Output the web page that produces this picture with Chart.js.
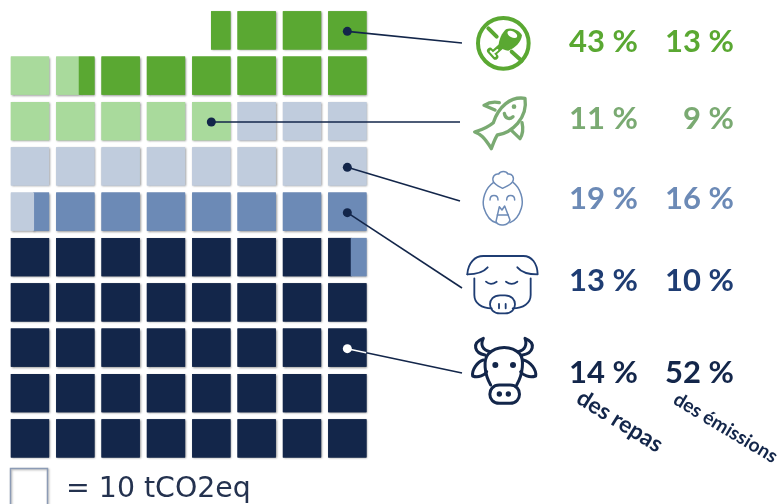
<!DOCTYPE html>
<html>
<head>
<meta charset="utf-8">
<title>Repas et émissions</title>
<script src="https://cdn.jsdelivr.net/npm/chart.js@4"></script>
<style>
    html, body { margin: 0; padding: 0; background: #fff; }
    canvas { display: block; }
</style>
</head>
<body>
<canvas id="myChart" width="778" height="504"></canvas>
<script>
// values in squares of 10 tCO2eq, bottom of the grid first
let seriesNames = ['Boeuf', 'Porc', 'Volaille', 'Poisson', 'Végétarien']
let seriesSquares = [39.6, 7.8, 11.6, 6.6, 9.9]
let seriesColors = ['#13264a', '#6c8ab6', '#c0ccdd', '#a9da9c', '#5aa832']

// shares printed next to the icons, top row first
let mealShare = [43, 11, 19, 13, 14]
let emissionShare = [13, 9, 16, 10, 52]
let shareColors = ['#5aa832', '#7aaa72', '#6c8ab6', '#1f3d73', '#13264a']
let shareBaselines = [52, 129, 209, 291, 383]

let rowLabels = ['9', '8', '7', '6', '5', '4', '3', '2', '1', '0']
let perRow = 8
let cellPad = 0.085

// walks the grid like a snake, left to right on even rows, and cuts
// a square in two when one series stops inside it
function buildCells(squares){
    let pos = 0
    return squares.map(function(amount){
        let cells = []
        let end = Math.round((pos + amount) * 1000) / 1000
        while(pos < end){
            let whole = Math.floor(pos + 1e-9)
            let from = pos - whole
            let to = Math.min(1, end - whole)
            let row = Math.floor(whole / perRow)
            let col = whole % perRow
            if(row % 2 === 1){
                col = perRow - 1 - col
                let flip = from
                from = 1 - to
                to = 1 - flip
            }
            let size = 1 - 2 * cellPad
            cells.push({
                x: [col + cellPad + from * size, col + cellPad + to * size],
                y: String(row)
            })
            pos = Math.round((whole + Math.min(1, end - whole)) * 1000) / 1000
        }
        return cells
    })
}

let cellData = buildCells(seriesSquares)

// soft shadow under the squares, then the fills again on top so a
// split square has no shadow line across it
let squareShadow = {
    id: 'squareShadow',
    beforeDatasetDraw(chart){
        let ctx = chart.ctx
        ctx.save()
        ctx.shadowColor = 'rgba(0, 0, 0, 0.4)'
        ctx.shadowBlur = 2
        ctx.shadowOffsetX = 1
        ctx.shadowOffsetY = 1
    },
    afterDatasetDraw(chart){
        chart.ctx.restore()
    },
    afterDatasetsDraw(chart){
        chart.getSortedVisibleDatasetMetas().forEach(function(meta){
            meta.data.forEach(function(bar){
                bar.draw(chart.ctx)
            })
        })
    }
}

function circle(ctx, x, y, r){
    ctx.beginPath()
    ctx.arc(x, y, r, 0, Math.PI * 2)
    ctx.fill()
}

function strokePath(ctx, d){
    ctx.stroke(new Path2D(d))
}

// icons are sketched at 3x, hence the scale below
function withIcon(ctx, originX, originY, color, width, draw){
    ctx.save()
    ctx.translate(originX, originY)
    ctx.scale(1 / 3, 1 / 3)
    ctx.strokeStyle = color
    ctx.fillStyle = color
    ctx.lineWidth = width
    ctx.lineCap = 'round'
    ctx.lineJoin = 'round'
    draw()
    ctx.restore()
}

function drawIcons(ctx){
    // no meat
    withIcon(ctx, 440, 0, shareColors[0], 12, function(){
        ctx.beginPath()
        ctx.arc(190, 130, 76, 0, Math.PI * 2)
        ctx.stroke()
        strokePath(ctx, 'M145 85 L170 110 M215 155 L245 182')
        ctx.fill(new Path2D('M198 88 C212 80 240 90 246 106 C244 126 224 146 205 152 C195 152 183 146 176 136 C176 120 186 98 198 88 Z'))
        ctx.lineWidth = 18
        strokePath(ctx, 'M182 140 L160 160')
        strokePath(ctx, 'M150 152 L166 170')
        ctx.strokeStyle = '#fff'
        ctx.lineWidth = 6
        strokePath(ctx, 'M172 150 L160 160 M152 154 L165 168')
        ctx.fillStyle = '#fff'
        ctx.beginPath()
        ctx.ellipse(217, 103, 16, 9, 0.5, 0, Math.PI * 2)
        ctx.fill()
    })

    // fish
    withIcon(ctx, 440, 0, shareColors[1], 10, function(){
        strokePath(ctx, 'M255 295 C212 288 176 320 160 368 C140 385 120 390 104 396 C120 402 132 410 154 446 C160 430 165 415 172 405 C215 398 264 355 255 295 Z')
        strokePath(ctx, 'M165 330 L132 316 C145 308 160 304 178 308')
        strokePath(ctx, 'M215 392 L240 416 C250 400 250 385 246 368')
        strokePath(ctx, 'M193 340 C196 356 208 360 219 350')
        circle(ctx, 222, 320, 7)
    })

    // chicken
    withIcon(ctx, 440, 0, shareColors[2], 4.5, function(){
        strokePath(ctx, 'M160 548 C135 565 125 600 132 625 C140 650 155 665 168 668 M220 548 C242 565 252 600 244 625 C238 645 225 662 210 668')
        strokePath(ctx, 'M188 565 C178 560 165 555 160 545 C155 530 165 520 176 522 C182 512 198 512 204 522 C216 520 224 532 218 545 C212 555 198 560 188 565 Z')
        strokePath(ctx, 'M150 600 C150 582 174 582 174 600 M200 600 C200 582 224 582 224 600')
        strokePath(ctx, 'M178 620 L186 630 L194 618 L210 660 C205 678 175 680 168 665 Z')
        strokePath(ctx, 'M172 645 L205 645')
    })

    // pig
    withIcon(ctx, 440, 240, shareColors[3], 5.5, function(){
        strokePath(ctx, 'M82 103 C84 68 105 48 130 48 L250 48 C275 48 292 70 293 103 C270 103 245 98 232 82')
        strokePath(ctx, 'M82 103 C105 103 130 97 143 82')
        strokePath(ctx, 'M103 115 L103 165 C103 190 125 205 155 205 M272 115 L272 165 C272 190 250 205 218 205')
        strokePath(ctx, 'M180 166 L195 166 C235 166 235 220 195 220 L180 220 C140 220 140 166 180 166 Z')
        strokePath(ctx, 'M177 192 L177 205 M197 192 L197 205')
        strokePath(ctx, 'M138 125 Q152 138 170 125 M198 125 Q215 138 232 125')
    })

    // cow
    withIcon(ctx, 440, 240, shareColors[4], 9, function(){
        strokePath(ctx, 'M152 435 C132 400 130 358 145 342 C170 316 215 316 240 342 C252 358 250 400 230 435')
        strokePath(ctx, 'M178 435 L210 435 C248 435 248 490 210 490 L178 490 C140 490 140 435 178 435 Z')
        circle(ctx, 178, 462, 8)
        circle(ctx, 205, 462, 8)
        circle(ctx, 166, 375, 9)
        circle(ctx, 219, 375, 9)
        strokePath(ctx, 'M135 345 C105 340 92 310 130 295 C120 315 128 330 150 335')
        strokePath(ctx, 'M248 345 C278 340 292 310 255 295 C262 315 255 330 235 335')
        strokePath(ctx, 'M130 360 C112 365 95 390 98 408 C115 415 135 405 140 395')
        strokePath(ctx, 'M250 360 C272 365 290 390 287 408 C268 415 248 405 242 395')
    })
}

// leader lines start on a square of the grid and end at the icon
let leaders = [
    {col: 7.5, row: '9', toX: 462, toY: 43},
    {col: 4.5, row: '7', toX: 460, toY: 122},
    {col: 7.5, row: '6', toX: 460, toY: 201},
    {col: 7.5, row: '5', toX: 462, toY: 288},
    {col: 7.5, row: '2', toX: 462, toY: 373, inverted: true}
]

function drawLeaders(chart){
    let ctx = chart.ctx
    let dark = '#13264a'
    leaders.forEach(function(l){
        let x = chart.scales.x.getPixelForValue(l.col)
        let y = chart.scales.y.getPixelForValue(l.row) + 1
        ctx.strokeStyle = dark
        ctx.lineWidth = 1.6
        ctx.beginPath()
        ctx.moveTo(x, y)
        ctx.lineTo(l.toX, l.toY)
        ctx.stroke()
        if(l.inverted){
            // white inside the dark square so the line stays visible
            let edge = chart.scales.x.getPixelForValue(8 - cellPad)
            ctx.strokeStyle = '#fff'
            ctx.beginPath()
            ctx.moveTo(x, y)
            ctx.lineTo(edge, y + (l.toY - y) * (edge - x) / (l.toX - x))
            ctx.stroke()
        }
        ctx.fillStyle = l.inverted ? '#fff' : dark
        circle(ctx, x, y, 4.5)
    })
}

function drawTexts(ctx){
    ctx.textBaseline = 'alphabetic'
    ctx.font = 'bold 31px Lato'
    ctx.textAlign = 'right'
    mealShare.forEach(function(v, i){
        ctx.fillStyle = shareColors[i]
        ctx.fillText(v + ' %', 638, shareBaselines[i])
        ctx.fillText(emissionShare[i] + ' %', 734, shareBaselines[i])
    })

    ctx.textAlign = 'left'
    ctx.fillStyle = '#13264a'
    ctx.font = 'bold 23px Lato'
    ctx.save()
    ctx.translate(575, 402)
    ctx.rotate(32 * Math.PI / 180)
    ctx.fillText('des repas', 0, 0)
    ctx.restore()
    ctx.save()
    ctx.translate(672, 403)
    ctx.rotate(31 * Math.PI / 180)
    ctx.font = 'bold 19.2px Lato'
    ctx.fillText('des émissions', 0, 0)
    ctx.restore()

    // unit square
    ctx.save()
    ctx.shadowColor = 'rgba(0, 0, 0, 0.3)'
    ctx.shadowBlur = 2
    ctx.shadowOffsetX = 1
    ctx.shadowOffsetY = 1
    ctx.strokeStyle = '#8c9bb5'
    ctx.lineWidth = 1.5
    ctx.strokeRect(10.5, 468.5, 37, 38)
    ctx.restore()

    ctx.fillStyle = '#24324f'
    ctx.font = '28.4px "DejaVu Sans"'
    ctx.fillText('= 10 tCO2eq', 66, 497)
}

let annotations = {
    id: 'annotations',
    afterDraw(chart){
        drawLeaders(chart)
        drawIcons(chart.ctx)
        drawTexts(chart.ctx)
    }
}

let ctx = document.getElementById('myChart').getContext('2d')
let myChart = new Chart(ctx, {
    type: 'bar',
    data: {
        labels: rowLabels,
        datasets: seriesNames.map(function(name, i){
            return {
                label: name,
                data: cellData[i],
                backgroundColor: seriesColors[i],
                borderWidth: 0,
                barThickness: 37.6,
                grouped: false
            }
        })
    },
    options: {
        indexAxis: 'y',
        responsive: false,
        animation: false,
        layout: {
            padding: {left: 7.3, right: 408, top: 7.7, bottom: 43}
        },
        scales: {
            x: {type: 'linear', min: 0, max: perRow, display: false},
            y: {type: 'category', display: false}
        },
        plugins: {
            legend: {display: false},
            tooltip: {enabled: false}
        }
    },
    plugins: [squareShadow, annotations]
})
</script>
</body>
</html>
